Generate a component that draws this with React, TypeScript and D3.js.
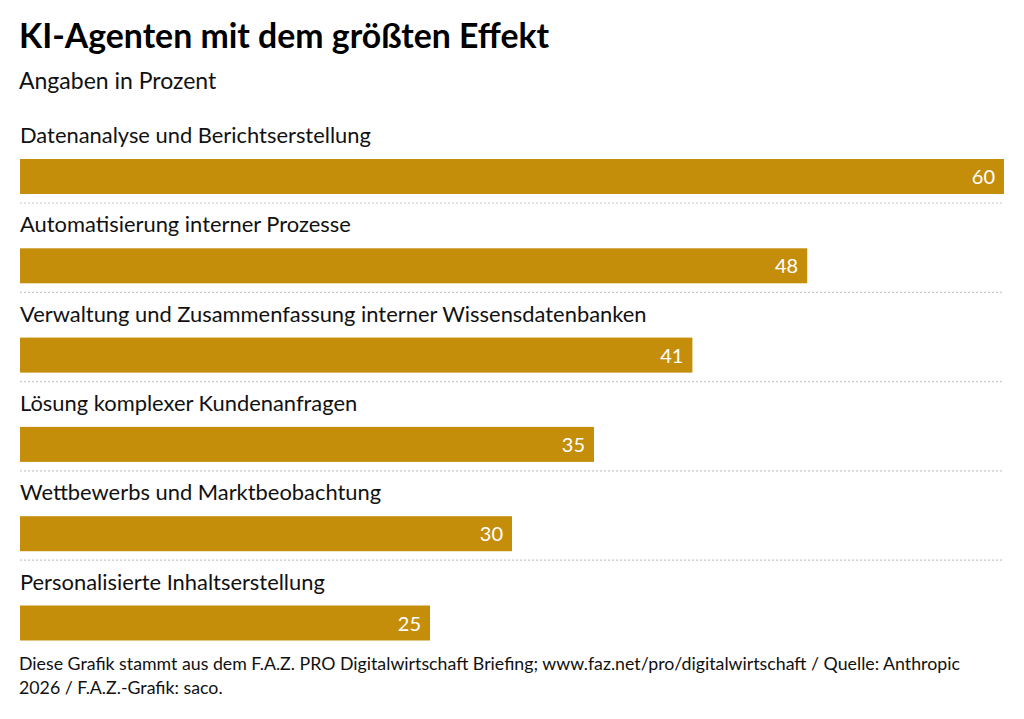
import React, { useEffect, useRef } from 'react';
import * as d3 from 'd3';

const categories = [
  'Datenanalyse und Berichtserstellung',
  'Automatisierung interner Prozesse',
  'Verwaltung und Zusammenfassung interner Wissensdatenbanken',
  'Lösung komplexer Kundenanfragen',
  'Wettbewerbs und Marktbeobachtung',
  'Personalisierte Inhaltserstellung',
];
const values = [60, 48, 41, 35, 30, 25];

const title = 'KI-Agenten mit dem größten Effekt';
const subtitle = 'Angaben in Prozent';
const footer = [
  'Diese Grafik stammt aus dem F.A.Z. PRO Digitalwirtschaft Briefing; www.faz.net/pro/digitalwirtschaft / Quelle: Anthropic',
  '2026 / F.A.Z.-Grafik: saco.',
];

const FONT = 'Lato, "Source Sans Pro", sans-serif';
const BAR = '#c48e0b';

const App: React.FC = () => {
  const svgRef = useRef<SVGSVGElement>(null);

  useEffect(() => {
    if (!svgRef.current) return;
    const svg = d3.select(svgRef.current);
    svg.selectAll('*').remove();

    const width = 1024;
    const height = 719;
    const left = 20;
    const right = 1004;

    const x = d3.scaleLinear().domain([0, 60]).range([left, right]);
    const y = d3.scaleBand<string>()
      .domain(categories)
      .range([114.5, 114.5 + 89.3 * categories.length])
      .paddingInner(0)
      .paddingOuter(0);

    svg.append('rect').attr('width', width).attr('height', height).attr('fill', '#fff');

    svg.append('text')
      .attr('x', 19).attr('y', 48)
      .attr('font-family', FONT).attr('font-weight', 700).attr('font-size', 33.8)
      .attr('fill', '#000')
      .text(title);

    svg.append('text')
      .attr('x', 19).attr('y', 89)
      .attr('font-family', FONT).attr('font-size', 23)
      .attr('fill', '#111')
      .text(subtitle);

    const rows = svg.selectAll('g.row')
      .data(categories)
      .enter()
      .append('g')
      .attr('class', 'row')
      .attr('transform', d => `translate(0,${y(d)})`);

    rows.append('text')
      .attr('x', 20).attr('y', 28.5)
      .attr('font-family', FONT).attr('font-size', 21.9)
      .attr('fill', '#111')
      .text(d => d);

    rows.append('rect')
      .attr('x', x(0))
      .attr('y', 44.5)
      .attr('width', (d, i) => x(values[i]) - x(0))
      .attr('height', 35)
      .attr('fill', BAR);

    rows.append('text')
      .attr('x', (d, i) => x(values[i]) - 9)
      .attr('y', 69.5)
      .attr('text-anchor', 'end')
      .attr('font-family', FONT).attr('font-size', 20)
      .attr('fill', '#fff')
      .text((d, i) => values[i]);

    rows.filter((d, i) => i < categories.length - 1)
      .append('line')
      .attr('x1', left).attr('x2', right)
      .attr('y1', 88.5).attr('y2', 88.5)
      .attr('stroke', '#c8c8c8')
      .attr('stroke-width', 1.2)
      .attr('stroke-dasharray', '2,2');

    svg.selectAll('text.footer')
      .data(footer)
      .enter()
      .append('text')
      .attr('class', 'footer')
      .attr('x', 19)
      .attr('y', (d, i) => 670 + i * 24)
      .attr('font-family', FONT).attr('font-size', 17.75)
      .attr('fill', '#111')
      .text(d => d);
  }, []);

  return (
    <div style={{ position: 'absolute', left: 0, top: 0 }}>
      <svg ref={svgRef} width={1024} height={719} style={{ display: 'block' }} />
    </div>
  );
};

export default App;
